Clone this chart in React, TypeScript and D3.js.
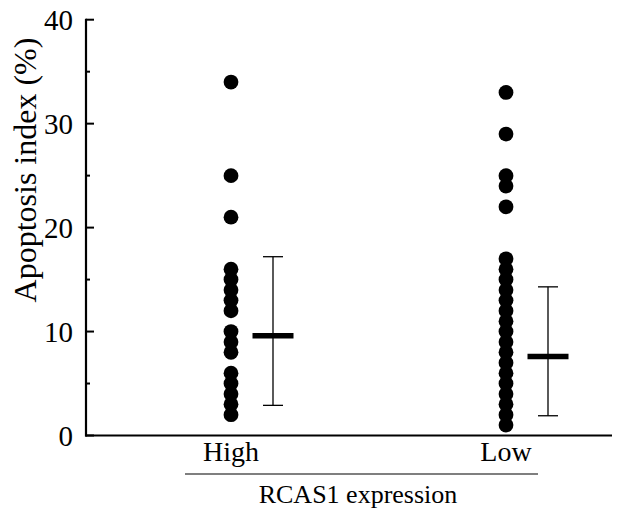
import React from "react";
import { scaleLinear, scalePoint } from "d3";

// groups on the x axis
const categories = ["High", "Low"];

// apoptosis index of each case
const highValues = [34, 25, 21, 16, 15, 14, 13, 12, 10, 9, 8, 6, 5, 4, 3, 2];
const lowValues = [33, 29, 25, 24, 22, 17, 16, 15, 14, 13, 12, 11, 10, 9, 8, 7, 6, 5, 4, 3, 2, 1];

// mean and spread bars (mean, lower, upper)
const means = [9.6, 7.6];
const lowerBounds = [2.9, 1.9];
const upperBounds = [17.2, 14.3];

const majorTicks = [0, 10, 20, 30, 40];
const minorTicks = [5, 15, 25, 35];

const W = 634;
const H = 522;
const FONT = "'Liberation Serif', 'Times New Roman', serif";

const App = () => {
  const axisX = 86;
  const y = scaleLinear().domain([0, 40]).range([435.5, 19.7]);
  const x = scalePoint<string>().domain(categories).range([231, 506]);
  const barOffset = 42;
  const series = [highValues, lowValues];

  return (
    <svg
      width={W}
      height={H}
      style={{ position: "absolute", left: 0, top: 0, background: "#fff" }}
    >
      {/* y axis */}
      <line x1={axisX} x2={axisX} y1={y(40) - 1} y2={y(0) + 1} stroke="#000" strokeWidth={2.2} />
      {majorTicks.map((t) => (
        <g key={"M" + t}>
          <line x1={axisX} x2={axisX + 8} y1={y(t)} y2={y(t)} stroke="#000" strokeWidth={2} />
          <text
            x={axisX - 13}
            y={y(t)}
            dy="0.36em"
            textAnchor="end"
            fontFamily={FONT}
            fontSize={29}
          >
            {t}
          </text>
        </g>
      ))}
      {minorTicks.map((t) => (
        <line key={"m" + t} x1={axisX} x2={axisX + 4} y1={y(t)} y2={y(t)} stroke="#000" strokeWidth={2} />
      ))}
      <text
        transform="translate(36,170) rotate(-90)"
        textAnchor="middle"
        fontFamily={FONT}
        fontSize={32}
      >
        Apoptosis index (%)
      </text>

      {/* x axis */}
      <line x1={axisX - 1} x2={612} y1={y(0)} y2={y(0)} stroke="#000" strokeWidth={2.2} />

      {/* dots */}
      {series.map((vals, i) =>
        vals.map((v, j) => (
          <circle key={i + "-" + j} cx={x(categories[i])} cy={y(v)} r={7.4} fill="#000" />
        ))
      )}

      {/* mean and spread */}
      {categories.map((c, i) => {
        const cx = (x(c) as number) + barOffset;
        return (
          <g key={"bar" + c}>
            <line x1={cx} x2={cx} y1={y(upperBounds[i])} y2={y(lowerBounds[i])} stroke="#000" strokeWidth={1.3} />
            <line x1={cx - 10} x2={cx + 10} y1={y(upperBounds[i])} y2={y(upperBounds[i])} stroke="#000" strokeWidth={1.3} />
            <line x1={cx - 10} x2={cx + 10} y1={y(lowerBounds[i])} y2={y(lowerBounds[i])} stroke="#000" strokeWidth={1.3} />
            <line x1={cx - 20.5} x2={cx + 20.5} y1={y(means[i])} y2={y(means[i])} stroke="#000" strokeWidth={5.5} />
          </g>
        );
      })}

      {/* category labels */}
      {categories.map((c) => (
        <text key={"lab" + c} x={x(c)} y={461} textAnchor="middle" fontFamily={FONT} fontSize={28}>
          {c}
        </text>
      ))}
      <line x1={185} x2={538} y1={474} y2={474} stroke="#000" strokeWidth={1.2} />
      <text x={358} y={503} textAnchor="middle" fontFamily={FONT} fontSize={26}>
        RCAS1 expression
      </text>
    </svg>
  );
};

export default App;
